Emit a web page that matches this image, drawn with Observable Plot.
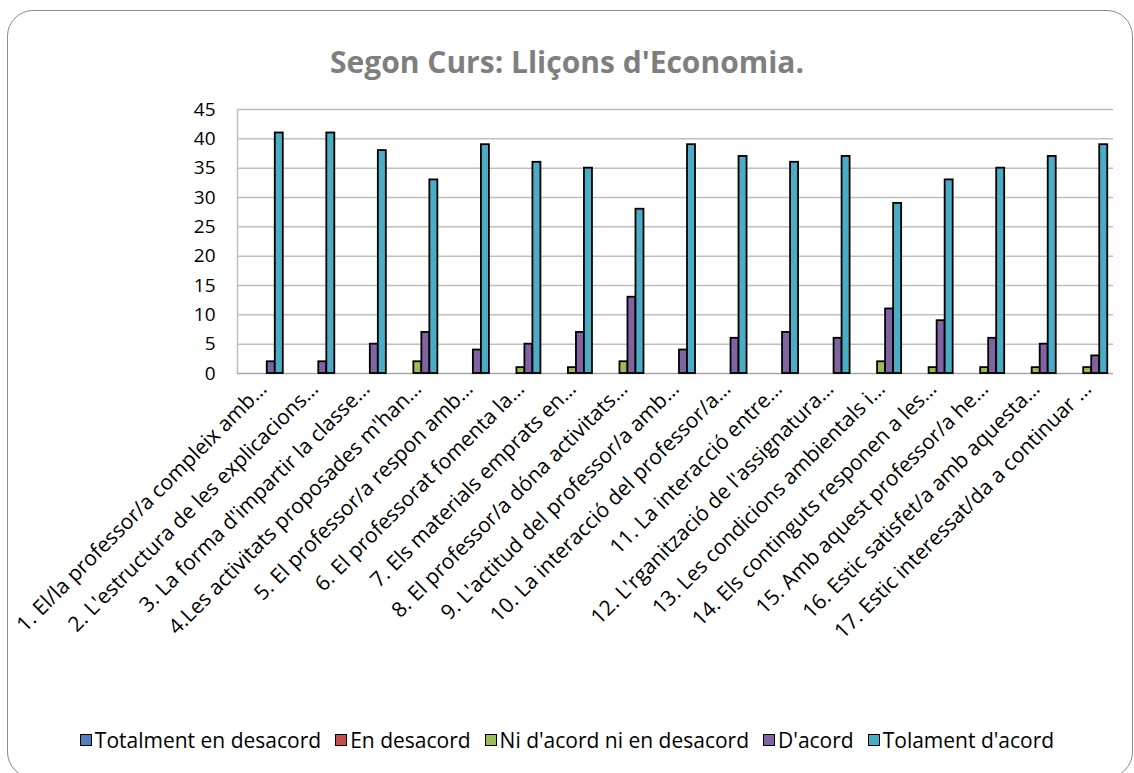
<!DOCTYPE html>
<html>
<head>
<meta charset="utf-8">
<script src="https://cdn.jsdelivr.net/npm/d3@7"></script>
<script src="https://cdn.jsdelivr.net/npm/@observablehq/plot@0.6"></script>
<style>
  html, body { margin: 0; padding: 0; background: #fff; }
  body { width: 1134px; height: 773px; position: relative; overflow: hidden; font-family: "Open Sans", sans-serif; }
  #frame { position: absolute; left: 7px; top: 10px; width: 1126px; height: 768px; border: 1.5px solid #8c8c8c; border-radius: 26px; box-sizing: border-box; }
  #title { position: absolute; left: 0; width: 1134px; top: 41px; text-align: center; font-size: 30px; font-weight: bold; color: #7f7f7f; }
  #chart { position: absolute; left: 0; top: 90px; }
  #legend { position: absolute; left: 0; width: 1134px; top: 726px; display: flex; justify-content: center; font-size: 21px; color: #000; }
  .item { display: flex; align-items: center; margin: 0 7px; }
  .sw { width: 10px; height: 10px; border: 1.5px solid #000; margin-right: 3px; }
</style>
</head>
<body>
<div id="frame"></div>
<div id="title">Segon Curs: Lliçons d'Economia.</div>
<div id="chart"></div>
<div id="legend"></div>
<script>
const questions = [
  "1. El/la professor/a compleix amb…",
  "2. L'estructura de les explicacions…",
  "3. La forma d'impartir la classe…",
  "4.Les activitats proposades m'han…",
  "5. El professor/a respon amb…",
  "6. El professorat fomenta la…",
  "7. Els materials emprats en…",
  "8. El professor/a dóna activitats…",
  "9. L'actitud del professor/a amb…",
  "10. La interacció del professor/a…",
  "11. La interacció entre…",
  "12. L'rganització de l'assignatura…",
  "13. Les condicions ambientals i…",
  "14. Els continguts responen a les…",
  "15. Amb aquest professor/a he…",
  "16. Estic satisfet/a amb aquesta…",
  "17. Estic interessat/da a continuar …"
];
const seriesNames = ["Totalment en desacord", "En desacord", "Ni d'acord ni en desacord", "D'acord", "Tolament d'acord"];
const seriesColors = ["#4F81BD", "#C0504D", "#9BBB59", "#8064A2", "#4BACC6"];
const totalmentDesacord = [0,0,0,0,0,0,0,0,0,0,0,0,0,0,0,0,0];
const enDesacord        = [0,0,0,0,0,0,0,0,0,0,0,0,0,0,0,0,0];
const niAcord           = [0,0,0,2,0,1,1,2,0,0,0,0,2,1,1,1,1];
const dAcord            = [2,2,5,7,4,5,7,13,4,6,7,6,11,9,6,5,3];
const tolamentAcord     = [41,41,38,33,39,36,35,28,39,37,36,37,29,33,35,37,39];
const yTicks = [0,5,10,15,20,25,30,35,40,45];

const seriesValues = [totalmentDesacord, enDesacord, niAcord, dAcord, tolamentAcord];
const pad = 0.111, bw = 0.1555;
const rows = [];
seriesValues.forEach((vals, si) => {
  vals.forEach((v, qi) => {
    if (v > 0) {
      const x1 = qi + 1 - 0.5 + pad + si * bw;
      rows.push({q: qi + 1, series: seriesNames[si], value: v, x1, x2: x1 + bw});
    }
  });
});

const chart = Plot.plot({
  width: 1134,
  height: 600,
  marginTop: 19,
  marginBottom: 317,
  marginLeft: 237,
  marginRight: 21,
  style: { fontFamily: "Open Sans, sans-serif", background: "transparent", overflow: "visible" },
  x: { domain: [0.5, 17.5] },
  y: { domain: [0, 45] },
  color: { domain: seriesNames, range: seriesColors },
  marks: [
    Plot.ruleY(yTicks.slice(1), { stroke: "#bfbfbf", strokeWidth: 1.5 }),
    Plot.ruleX([0.5], { y1: 0, y2: 45, stroke: "#bfbfbf", strokeWidth: 1.5 }),
    Plot.ruleY([0], { stroke: "#a6a6a6", strokeWidth: 1.5 }),
    Plot.rectY(rows, { x1: "x1", x2: "x2", y1: 0, y2: "value", fill: "series", stroke: "#000", strokeWidth: 1.8 }),
    Plot.axisY({ ticks: yTicks, tickSize: 0, tickPadding: 22, fontSize: 19, label: null, color: "#000" }),
    Plot.axisX({ ticks: d3.range(1, 18), tickFormat: i => questions[i - 1], tickRotate: -45, tickSize: 0, tickPadding: 12, fontSize: 21, label: null, color: "#000" })
  ]
});
document.getElementById("chart").appendChild(chart);

const legend = document.getElementById("legend");
seriesNames.forEach((n, i) => {
  const it = document.createElement("div");
  it.className = "item";
  const sw = document.createElement("div");
  sw.className = "sw";
  sw.style.background = seriesColors[i];
  const t = document.createElement("span");
  t.textContent = n;
  it.appendChild(sw); it.appendChild(t);
  legend.appendChild(it);
});
</script>
</body>
</html>
